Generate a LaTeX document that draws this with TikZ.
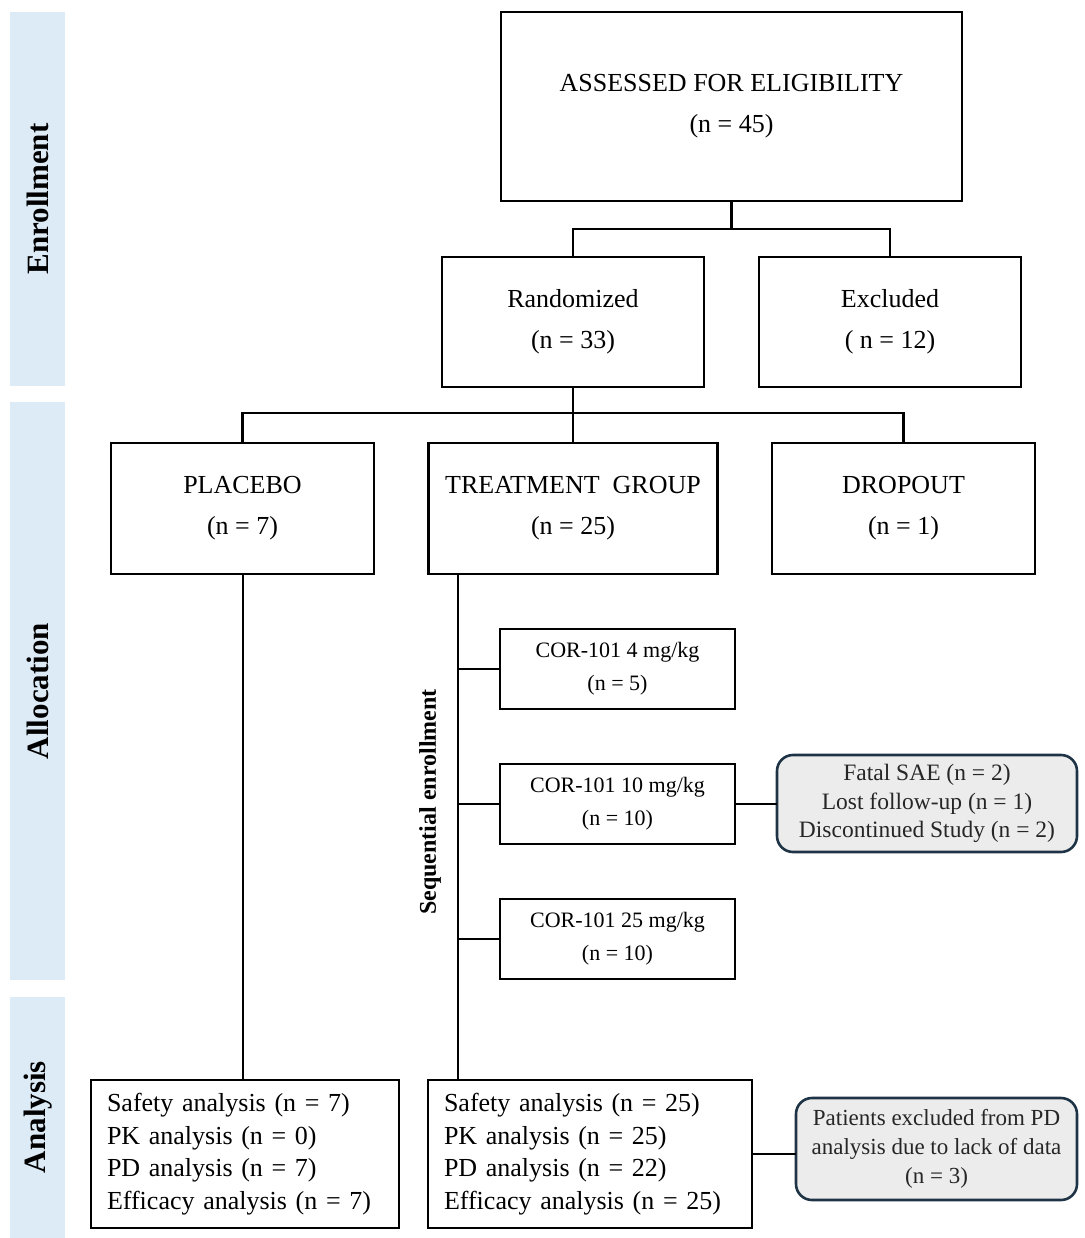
\documentclass[tikz,border=0pt]{standalone}
\usepackage{fontspec}
\setmainfont{Liberation Serif}
\definecolor{bandblue}{RGB}{221,235,247}
\definecolor{noteborder}{RGB}{30,52,70}
\definecolor{notefill}{RGB}{236,236,236}
\begin{document}
\begin{tikzpicture}[x=1pt,y=-1pt,
  box/.style={draw, line width=2.6pt, rectangle, align=center, inner sep=0pt,
    font=\fontsize{26}{41}\selectfont},
  dose/.style={draw, line width=2.6pt, rectangle, align=center, inner sep=0pt,
    minimum width=235pt, minimum height=80pt, font=\fontsize{22}{33}\selectfont},
  note/.style={draw=noteborder, line width=2.6pt, rounded corners=16pt, fill=notefill,
    align=center, inner sep=0pt, text=black!85},
  listbox/.style={draw, line width=2.6pt, rectangle, align=left, inner xsep=16pt, inner ysep=0pt,
    minimum height=148pt, font=\fontsize{26}{32.5}\selectfont},
  band/.style={fill=bandblue, draw=none},
  bandlabel/.style={rotate=90, font=\fontsize{31}{33}\selectfont\bfseries},
  conn/.style={line width=2.6pt, line cap=rect}
]
\useasboundingbox (0,0) rectangle (1084,1238);
% side bands
\fill[band] (10,12) rectangle (65,386);
\fill[band] (10,402) rectangle (65,980);
\fill[band] (10,997) rectangle (65,1238);
\node[bandlabel] (lenr) at (38,199) {Enrollment};
\node[bandlabel] (lall) at (38,691) {Allocation};
\node[bandlabel] (lana) at (38,1117) {Analysis};

% boxes
\node[box, minimum width=461pt, minimum height=189pt] (assess) at (731.5,106.5) {ASSESSED FOR ELIGIBILITY\\(n = 45)};
\node[box, minimum width=262pt, minimum height=130pt] (rand) at (573,322) {Randomized\\(n = 33)};
\node[box, minimum width=262pt, minimum height=130pt] (excl) at (890,322) {Excluded\\( n = 12)};
\node[box, minimum width=263pt, minimum height=131pt] (plac) at (242.5,508.5) {PLACEBO\\(n = 7)};
\node[box, minimum width=289pt, minimum height=131pt] (treat) at (573,508.5) {TREATMENT\hspace{0.5em}GROUP\\(n = 25)};
\node[box, minimum width=263pt, minimum height=131pt] (drop) at (903.5,508.5) {DROPOUT\\(n = 1)};

\node[dose] (cor4) at (617.5,669) {COR-101 4 mg/kg\\(n = 5)};
\node[dose] (cor10) at (617.5,804) {COR-101 10 mg/kg\\(n = 10)};
\node[dose] (cor25) at (617.5,939) {COR-101 25 mg/kg\\(n = 10)};

\node[note, minimum width=300pt, minimum height=97pt, font=\fontsize{23.5}{28.5}\selectfont] (fatal) at (927,803.5)
  {Fatal SAE (n = 2)\\Lost follow-up (n = 1)\\Discontinued Study (n = 2)};

\node[listbox, text width=276pt] (pan) at (245,1154)
  {Safety analysis (n = 7)\\PK analysis (n = 0)\\PD analysis (n = 7)\\Efficacy analysis (n = 7)};
\node[listbox, text width=292pt] (tan) at (590,1154)
  {Safety analysis (n = 25)\\PK analysis (n = 25)\\PD analysis (n = 22)\\Efficacy analysis (n = 25)};

\node[note, minimum width=281pt, minimum height=102pt, font=\fontsize{23}{29}\selectfont] (pat) at (936.5,1149)
  {Patients excluded from PD\\analysis due to lack of data\\(n = 3)};

\node[rotate=90, font=\fontsize{24}{26}\selectfont\bfseries] (seq) at (430,802) {Sequential enrollment};

% connectors
\coordinate (j1) at (731.5,229);
\draw[conn] (assess.south) -- (j1);
\draw[conn] (rand.north) -- (rand.north |- j1) -- (excl.north |- j1) -- (excl.north);

\coordinate (j2) at (573,413);
\draw[conn] (rand.south) -- (j2);
\draw[conn] (plac.north) -- (plac.north |- j2) -- (drop.north |- j2) -- (drop.north);
\draw[conn] (treat.north) -- (treat.north |- j2);

\coordinate (p0) at (243,574);
\draw[conn] (p0) -- (p0 |- pan.north);

\coordinate (t0) at (458,574);
\draw[conn] (t0) -- (t0 |- tan.north);
\draw[conn] (t0 |- cor4.west) -- (cor4.west);
\draw[conn] (t0 |- cor10.west) -- (cor10.west);
\draw[conn] (t0 |- cor25.west) -- (cor25.west);

\draw[conn] (cor10.east) -- (cor10.east -| fatal.west);
\draw[conn] (tan.east) -- (tan.east -| pat.west);
\end{tikzpicture}
\end{document}
